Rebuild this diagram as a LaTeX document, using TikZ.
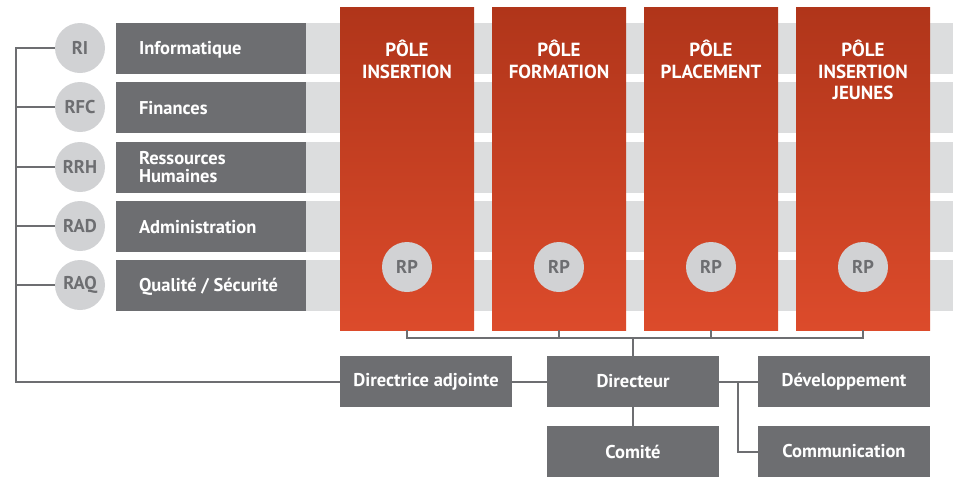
\documentclass[tikz,border=0pt]{standalone}
\usepackage{fontspec}
\setmainfont{PT Sans}
\usetikzlibrary{calc}
\definecolor{dgray}{HTML}{6D6E71}
\definecolor{lgray}{HTML}{DCDDDE}
\definecolor{cgray}{HTML}{D1D2D4}
\definecolor{redtop}{HTML}{B0351A}
\definecolor{redbot}{HTML}{DC4B2B}
\tikzset{
  darkbox/.style={fill=dgray, draw=none, inner sep=0pt, minimum width=190pt, minimum height=51pt},
  botbox/.style={fill=dgray, draw=none, inner sep=0pt, minimum width=172pt, minimum height=51pt, text=white, font=\bfseries\fontsize{18.5}{20}\selectfont},
  band/.style={fill=lgray, draw=none, inner sep=0pt, minimum width=647pt, minimum height=51pt},
  boxtext/.style={text=white, font=\bfseries\fontsize{18.5}{18}\selectfont, align=left, inner sep=0pt, anchor=west},
  circ/.style={circle, fill=cgray, draw=none, minimum size=50pt, inner sep=0pt, text=dgray, font=\bfseries\fontsize{18.5}{20}\selectfont},
  pole/.style={draw=none, top color=redtop, bottom color=redbot, inner sep=0pt, minimum width=134pt, minimum height=323pt},
  poletext/.style={text=white, font=\bfseries\fontsize{19}{21.5}\selectfont, align=center, anchor=north, inner sep=0pt},
  conn/.style={draw=dgray, line width=2pt},
  thin/.style={draw=dgray, line width=1.5pt}
}
\begin{document}
\begin{tikzpicture}[x=1pt,y=-1pt]
\useasboundingbox (0,0) rectangle (953,480);
% bands
\foreach \y/\n in {48.5/1,107.5/2,167.5/3,226.5/4,285.5/5}{
  \node[band] (band\n) at (629.5,\y) {};
}
% dark boxes
\node[darkbox] (inf) at (211,48.5) {};
\node[darkbox] (fin) at (211,107.5) {};
\node[darkbox] (rh) at (211,167.5) {};
\node[darkbox] (adm) at (211,226.5) {};
\node[darkbox] (qual) at (211,285.5) {};
\node[boxtext] (tinf) at ([xshift=23pt,yshift=-1pt]inf.west) {Informatique};
\node[boxtext] (tfin) at ([xshift=23pt,yshift=-1pt]fin.west) {Finances};
\node[boxtext] (trh) at ([xshift=23pt]rh.west) {Ressources\\Humaines};
\node[boxtext] (tadm) at ([xshift=23pt,yshift=-1pt]adm.west) {Administration};
\node[boxtext] (tqual) at ([xshift=23pt,yshift=-1pt]qual.west) {Qualité / Sécurité};
% circles
\node[circ] (ri) at (80,48) {RI};
\node[circ] (rfc) at (80,107) {RFC};
\node[circ] (rrh) at (80,167) {RRH};
\node[circ] (rad) at (80,226) {RAD};
\node[circ] (raq) at (80,285) {RAQ};
% poles
\node[pole] (p1) at (407,168.5) {};
\node[pole] (p2) at (559,168.5) {};
\node[pole] (p3) at (711,168.5) {};
\node[pole] (p4) at (863,168.5) {};
\node[poletext] (tp1) at (407,40) {PÔLE\\INSERTION};
\node[poletext] (tp2) at (559,40) {PÔLE\\FORMATION};
\node[poletext] (tp3) at (711,40) {PÔLE\\PLACEMENT};
\node[poletext] (tp4) at (863,40) {PÔLE\\INSERTION\\JEUNES};
\node[circ] (rp1) at (407,267) {RP};
\node[circ] (rp2) at (559,267) {RP};
\node[circ] (rp3) at (711,267) {RP};
\node[circ] (rp4) at (863,267) {RP};
% bottom boxes
\node[botbox] (da) at (426,381.5) {Directrice adjointe};
\node[botbox] (dir) at (633,381.5) {Directeur};
\node[botbox] (dev) at (844,381.5) {Développement};
\node[botbox] (com) at (633,451.5) {Comité};
\node[botbox] (comm) at (844,451.5) {Communication};
% connectors left
\coordinate (vtop) at (16,47);
\draw[conn] (vtop) |- (da.west);
\foreach \c in {ri,rfc,rrh,rad,raq}{
  \draw[conn] (\c.west) -- (\c.west -| vtop);
}
\draw[conn] (da.east) -- (dir.west);
\draw[conn] (dir.east) -- (dev.west);
\draw[conn] (dir.south) -- (com.north);
\coordinate (br) at (738,381.5);
\draw[conn] (br) |- (comm.west);
% bracket
\coordinate (bk) at (633,338);
\draw[thin] (p1.south) |- (bk) -| (p4.south);
\draw[thin] (p2.south) -- (p2.south |- bk);
\draw[thin] (p3.south) -- (p3.south |- bk);
\draw[thin] (bk) -- (dir.north);
\end{tikzpicture}
\end{document}
